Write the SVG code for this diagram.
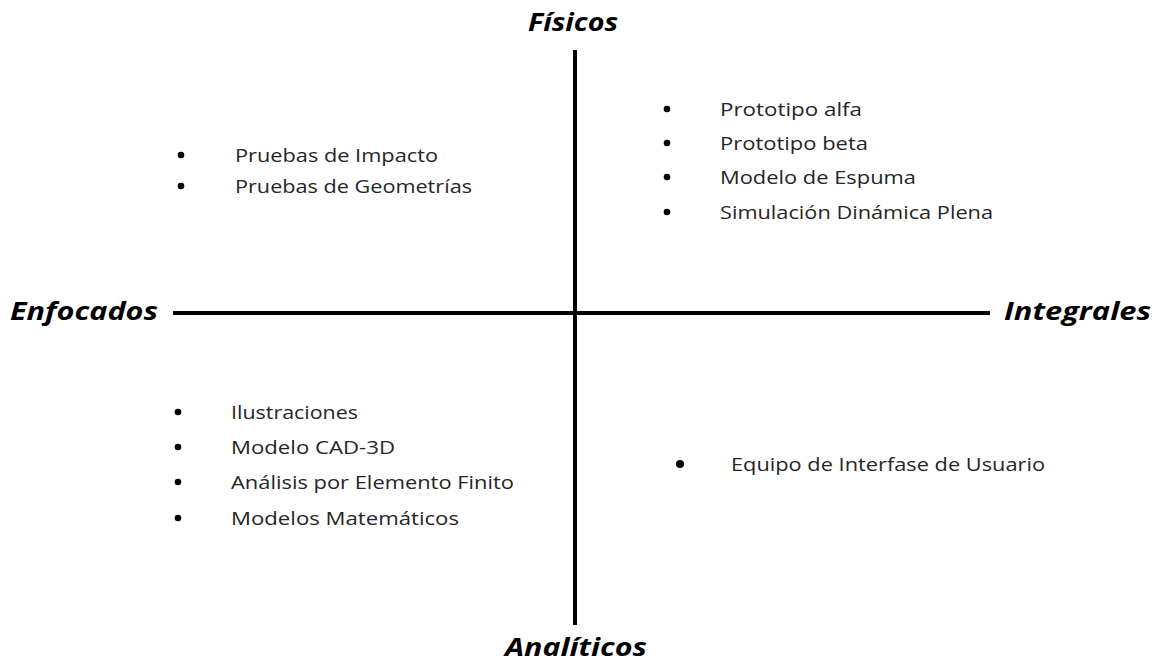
<svg xmlns="http://www.w3.org/2000/svg" width="1156" height="663" viewBox="0 0 1156 663">
<style>
.t{font-family:"Open Sans","Noto Sans",sans-serif;font-size:19px;fill:#262626}
.h{font-family:"Open Sans","Noto Sans",sans-serif;font-size:25px;font-weight:bold;font-style:italic;fill:#000}
.b{fill:#000}
.ax{stroke:#000;stroke-width:4}
</style>
<rect width="1156" height="663" fill="#fff"/>
<g id="axes">
<line class="ax" x1="575" y1="50" x2="575" y2="625"/>
<line class="ax" x1="173" y1="313" x2="990" y2="313"/>
</g>
<g id="labels">
<text class="h" x="528" y="31" textLength="90" lengthAdjust="spacingAndGlyphs">Físicos</text>
<text class="h" x="10" y="320" textLength="148" lengthAdjust="spacingAndGlyphs">Enfocados</text>
<text class="h" x="1004" y="320" textLength="147" lengthAdjust="spacingAndGlyphs">Integrales</text>
<text class="h" x="505" y="656" textLength="142" lengthAdjust="spacingAndGlyphs">Analíticos</text>
</g>
<g id="q-top-left">
<circle class="b" cx="181" cy="155" r="3.3"/><text class="t" x="235" y="162" textLength="203" lengthAdjust="spacingAndGlyphs">Pruebas de Impacto</text>
<circle class="b" cx="181" cy="186" r="3.3"/><text class="t" x="235" y="193" textLength="237" lengthAdjust="spacingAndGlyphs">Pruebas de Geometrías</text>
</g>
<g id="q-top-right">
<circle class="b" cx="667" cy="109" r="3.3"/><text class="t" x="720" y="116" textLength="142" lengthAdjust="spacingAndGlyphs">Prototipo alfa</text>
<circle class="b" cx="667" cy="143" r="3.3"/><text class="t" x="720" y="150" textLength="148" lengthAdjust="spacingAndGlyphs">Prototipo beta</text>
<circle class="b" cx="667" cy="177" r="3.3"/><text class="t" x="720" y="184" textLength="196" lengthAdjust="spacingAndGlyphs">Modelo de Espuma</text>
<circle class="b" cx="667" cy="212" r="3.3"/><text class="t" x="720" y="219" textLength="273" lengthAdjust="spacingAndGlyphs">Simulación Dinámica Plena</text>
</g>
<g id="q-bottom-left">
<circle class="b" cx="178" cy="412" r="3.3"/><text class="t" x="231" y="419" textLength="127" lengthAdjust="spacingAndGlyphs">Ilustraciones</text>
<circle class="b" cx="178" cy="447" r="3.3"/><text class="t" x="231" y="454" textLength="164" lengthAdjust="spacingAndGlyphs">Modelo CAD-3D</text>
<circle class="b" cx="178" cy="482" r="3.3"/><text class="t" x="231" y="489" textLength="283" lengthAdjust="spacingAndGlyphs">Análisis por Elemento Finito</text>
<circle class="b" cx="178" cy="518" r="3.3"/><text class="t" x="231" y="525" textLength="228" lengthAdjust="spacingAndGlyphs">Modelos Matemáticos</text>
</g>
<g id="q-bottom-right">
<circle class="b" cx="680" cy="464" r="4"/><text class="t" x="731" y="471" textLength="314" lengthAdjust="spacingAndGlyphs">Equipo de Interfase de Usuario</text>
</g>
</svg>
